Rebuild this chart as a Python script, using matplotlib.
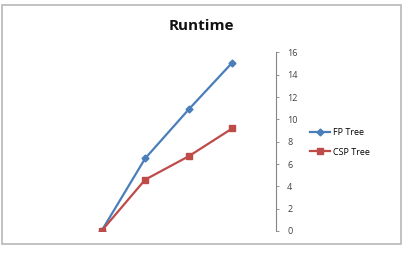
import matplotlib
matplotlib.use("Agg")
import matplotlib.pyplot as plt
from matplotlib.patches import Rectangle

# data
steps = [0, 1, 2, 3]
fp_tree = [0, 6.5, 10.9, 15.1]
csp_tree = [0, 4.6, 6.7, 9.2]
y_ticks = [0, 2, 4, 6, 8, 10, 12, 14, 16]

blue = "#4A7EBB"
red = "#BE4B48"

plt.rcParams["font.family"] = ["Open Sans", "DejaVu Sans"]

fig = plt.figure(figsize=(4.06, 2.56), dpi=100)
fig.patch.set_facecolor("white")

# outer chart frame
fig.patches.append(Rectangle((2 / 406, 1 - 244 / 256), 399 / 406, 239 / 256,
                             transform=fig.transFigure, fill=False,
                             edgecolor="#b8b8b8", linewidth=1.2))

ax = fig.add_axes([0.1963, 0.0977, 0.4835, 0.6973])
ax.patch.set_alpha(0)

ax.plot(steps, fp_tree, color=blue, linewidth=1.6, marker="D",
        markersize=3.5, label="FP Tree")
ax.plot(steps, csp_tree, color=red, linewidth=1.6, marker="s",
        markersize=5, label="CSP Tree")

ax.set_xlim(-0.5, 4)
ax.set_ylim(0, 16)
ax.set_yticks(y_ticks)
ax.set_xticks([])

for s in ["left", "top", "bottom"]:
    ax.spines[s].set_visible(False)
ax.spines["right"].set_color("#868686")
ax.spines["right"].set_linewidth(0.8)
ax.yaxis.tick_right()
ax.tick_params(axis="y", direction="out", length=2, width=0.6, color="#868686",
               labelsize=6.5, labelcolor="#404040", pad=6)

fig.text(0.495, 0.90, "Runtime", ha="center", va="center",
         fontsize=11, fontweight="bold", color="#111111")

fig.legend(loc="upper left", bbox_to_anchor=(0.755, 0.515), frameon=False,
           fontsize=6.5, handlelength=2.2, handletextpad=0.3, labelspacing=1.2,
           borderaxespad=0)

fig.savefig("out.png", dpi=100)
